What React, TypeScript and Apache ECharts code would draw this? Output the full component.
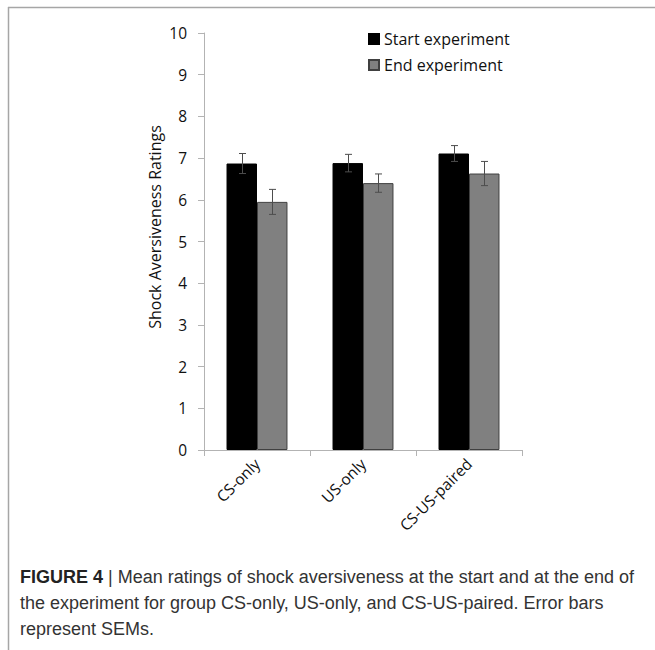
import React, { useEffect, useRef } from "react";
import * as echarts from "echarts";

// Groups and mean ratings with their standard errors
const groups = ["CS-only", "US-only", "CS-US-paired"];
const startMeans = [6.87, 6.88, 7.11];
const startSem = [0.24, 0.21, 0.19];
const endMeans = [5.95, 6.4, 6.63];
const endSem = [0.3, 0.22, 0.29];
const seriesNames = ["Start experiment", "End experiment"];

const captionLines = [
  "{b|FIGURE 4} | Mean ratings of shock aversiveness at the start and at the end of",
  "the experiment for group CS-only, US-only, and CS-US-paired. Error bars",
  "represent SEMs.",
];

const CATEGORY_GAP = 0.425;
const axisFont = "'Open Sans', sans-serif";
const captionFont = "'Liberation Sans', Arial, sans-serif";

export default function App() {
  const ref = useRef<HTMLDivElement>(null);

  useEffect(() => {
    if (!ref.current) return;
    const chart = echarts.init(ref.current, undefined, { renderer: "svg" });

    const errorData: number[][] = [];
    startMeans.forEach((m, i) => errorData.push([i, m, startSem[i], 0]));
    endMeans.forEach((m, i) => errorData.push([i, m, endSem[i], 1]));

    // Error bars centred on each bar of the pair
    const renderError = (params: any, api: any) => {
      const cat = api.value(0);
      const mean = api.value(1);
      const sem = api.value(2);
      const which = api.value(3);
      const band = api.size([1, 0])[0];
      const barW = (band * (1 - CATEGORY_GAP)) / 2;
      const c = api.coord([cat, mean]);
      const x = Math.round(c[0] + (which === 0 ? -barW / 2 : barW / 2)) + 0.5;
      const hi = api.coord([cat, mean + sem])[1];
      const lo = api.coord([cat, mean - sem])[1];
      const cap = 3.5;
      const style = { stroke: "#4d4d4d", lineWidth: 1 };
      return {
        type: "group",
        children: [
          { type: "line", shape: { x1: x, y1: hi, x2: x, y2: lo }, style },
          { type: "line", shape: { x1: x - cap, y1: hi, x2: x + cap, y2: hi }, style },
          { type: "line", shape: { x1: x - cap, y1: lo, x2: x + cap, y2: lo }, style },
        ],
      };
    };

    chart.setOption({
      animation: false,
      backgroundColor: "#ffffff",
      grid: { left: 204, right: 133, top: 33, bottom: 200, containLabel: false },
      legend: {
        orient: "vertical",
        left: 368,
        top: 31,
        padding: 0,
        itemWidth: 10,
        itemHeight: 10,
        itemGap: 10,
        icon: "rect",
        data: seriesNames,
        textStyle: { fontFamily: axisFont, fontSize: 16, color: "#111", lineHeight: 16 },
      },
      xAxis: {
        type: "category",
        data: groups,
        axisLine: { lineStyle: { color: "#b3b3b3", width: 1 } },
        axisTick: { show: true, length: 6, lineStyle: { color: "#b3b3b3" } },
        axisLabel: {
          rotate: 45,
          margin: 11,
          fontFamily: axisFont,
          fontSize: 15.5,
          color: "#111",
        },
      },
      yAxis: {
        type: "value",
        min: 0,
        max: 10,
        interval: 1,
        splitLine: { show: false },
        axisLine: { show: true, lineStyle: { color: "#b3b3b3", width: 1 } },
        axisTick: { show: true, length: 6, lineStyle: { color: "#b3b3b3" } },
        axisLabel: { margin: 17, fontFamily: axisFont, fontSize: 15.5, color: "#111" },
      },
      series: [
        {
          name: seriesNames[0],
          type: "bar",
          data: startMeans,
          barGap: "0%",
          barCategoryGap: CATEGORY_GAP * 100 + "%",
          itemStyle: { color: "#000000", borderColor: "#000000", borderWidth: 1 },
        },
        {
          name: seriesNames[1],
          type: "bar",
          data: endMeans,
          barGap: "0%",
          barCategoryGap: CATEGORY_GAP * 100 + "%",
          itemStyle: { color: "#808080", borderColor: "#404040", borderWidth: 1 },
        },
        {
          type: "custom",
          data: errorData,
          renderItem: renderError,
          z: 10,
          silent: true,
        },
      ],
      graphic: [
        {
          type: "line",
          shape: { x1: 8, y1: 7.5, x2: 655, y2: 7.5 },
          style: { stroke: "#a6a6a6", lineWidth: 1.5 },
        },
        {
          type: "line",
          shape: { x1: 8.5, y1: 7, x2: 8.5, y2: 650 },
          style: { stroke: "#a6a6a6", lineWidth: 1.5 },
        },
        {
          type: "text",
          x: 155,
          y: 227,
          rotation: Math.PI / 2,
          style: {
            text: "Shock Aversiveness Ratings",
            fontFamily: axisFont,
            fontSize: 16,
            fill: "#111",
            align: "center",
            verticalAlign: "middle",
          },
        },
        ...captionLines.map((line, i) => ({
          type: "text",
          x: 20,
          y: 577 + i * 26,
          style: {
            text: line,
            fontFamily: captionFont,
            fontSize: 18,
            fill: "#333",
            align: "left",
            verticalAlign: "middle",
            rich: {
              b: {
                fontFamily: captionFont,
                fontSize: 18,
                fontWeight: "bold",
                fill: "#222",
              },
            },
          },
        })),
      ],
    });

    return () => chart.dispose();
  }, []);

  return (
    <div
      ref={ref}
      style={{ position: "absolute", left: 0, top: 0, width: 655, height: 650 }}
    />
  );
}
